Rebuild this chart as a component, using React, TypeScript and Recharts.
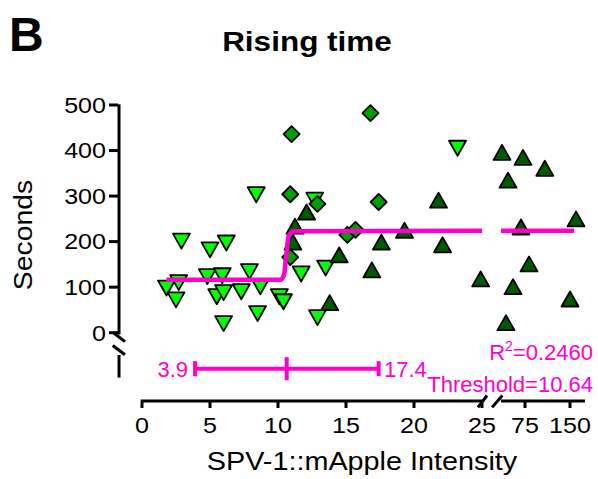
import { ErrorBar, ReferenceLine, Scatter, ScatterChart, XAxis, YAxis } from "recharts";

const FONT = '"Liberation Sans", Arial, sans-serif';
const MAGENTA = "#FF00CC";
const LIGHT = "#00FF00";
const MID = "#00A000";
const DARK = "#005A00";
const TICK_STRETCH = 1.14;

// light green, inverted triangles
const downTriangles = [
  { x: 1.8, y: 98 },
  { x: 2.5, y: 72 },
  { x: 2.7, y: 110 },
  { x: 2.9, y: 201 },
  { x: 4.8, y: 123 },
  { x: 5.0, y: 182 },
  { x: 5.5, y: 79 },
  { x: 5.9, y: 125 },
  { x: 6.0, y: 88 },
  { x: 6.0, y: 20 },
  { x: 6.2, y: 197 },
  { x: 7.3, y: 90 },
  { x: 7.9, y: 134 },
  { x: 8.4, y: 303 },
  { x: 8.5, y: 42 },
  { x: 8.7, y: 101 },
  { x: 10.1, y: 79 },
  { x: 10.4, y: 68 },
  { x: 11.7, y: 129 },
  { x: 12.7, y: 291 },
  { x: 12.9, y: 33 },
  { x: 13.5, y: 142 },
  { x: 23.2, y: 405 },
];

// medium green diamonds
const diamonds = [
  { x: 10.9, y: 166 },
  { x: 10.9, y: 304 },
  { x: 11.0, y: 436 },
  { x: 12.9, y: 283 },
  { x: 15.1, y: 215 },
  { x: 15.7, y: 226 },
  { x: 16.8, y: 482 },
  { x: 17.4, y: 287 },
];

// dark green triangles, left part of the broken axis
const upTrianglesLow = [
  { x: 11.1, y: 199 },
  { x: 11.25, y: 234 },
  { x: 12.1, y: 265 },
  { x: 13.8, y: 66 },
  { x: 14.5, y: 171 },
  { x: 16.9, y: 138 },
  { x: 17.6, y: 199 },
  { x: 19.3, y: 225 },
  { x: 21.8, y: 291 },
  { x: 22.1, y: 193 },
  { x: 24.9, y: 118 },
];

// dark green triangles, right part of the broken axis
const upTrianglesHigh = [
  { x: 36.7, y: 396 },
  { x: 43.3, y: 22 },
  { x: 46.7, y: 335 },
  { x: 55, y: 101 },
  { x: 68.3, y: 232 },
  { x: 71.7, y: 385 },
  { x: 81.7, y: 151 },
  { x: 108, y: 361 },
  { x: 150, y: 74 },
  { x: 160, y: 250 },
];

// segmental fit
const fitLow = [
  { x: 1.8, y: 116 },
  { x: 10.2, y: 116 },
  { x: 10.45, y: 128 },
  { x: 10.6, y: 170 },
  { x: 10.8, y: 214 },
  { x: 11.2, y: 223 },
  { x: 25, y: 224 },
];
const fitHigh = [
  { x: 35, y: 224 },
  { x: 157, y: 224 },
];

const THRESHOLD = 10.64;
const CI_LOW = 3.9;
const CI_HIGH = 17.4;
const R2 = "0.2460";
const thresholdBar = [
  { x: THRESHOLD, y: -79, err: [THRESHOLD - CI_LOW, CI_HIGH - THRESHOLD] },
];

const xTicksLow = [0, 5, 10, 15, 20, 25];
const xTicksHigh = [75, 150];
const yTicks = [0, 100, 200, 300, 400, 500];

// axis drawing helpers (in data units)
const Y_AXIS_AT = -1.69;
const X_AXIS_AT = -150;

const DownTriangle = (p: any) => {
  const { cx, cy } = p;
  return (
    <path
      d={`M${cx - 8.5},${cy - 7.5}L${cx + 8.5},${cy - 7.5}L${cx},${cy + 7.5}Z`}
      fill={LIGHT}
      stroke="#000"
      strokeWidth={1.8}
      strokeLinejoin="round"
    />
  );
};

const UpTriangle = (p: any) => {
  const { cx, cy } = p;
  return (
    <path
      d={`M${cx - 8.5},${cy + 7.5}L${cx + 8.5},${cy + 7.5}L${cx},${cy - 7.5}Z`}
      fill={DARK}
      stroke="#000"
      strokeWidth={1.8}
      strokeLinejoin="round"
    />
  );
};

const Diamond = (p: any) => {
  const { cx, cy } = p;
  return (
    <path
      d={`M${cx},${cy - 8}L${cx + 8},${cy}L${cx},${cy + 8}L${cx - 8},${cy}Z`}
      fill={MID}
      stroke="#000"
      strokeWidth={1.8}
      strokeLinejoin="round"
    />
  );
};

const CenterTick = (p: any) => {
  const { cx, cy } = p;
  return <rect x={cx - 2} y={cy - 11.5} width={4} height={23} fill={MAGENTA} />;
};

const NoDot = () => <g />;

const XTick = (p: any) => (
  <text
    transform={`translate(${p.x},${p.y}) scale(${TICK_STRETCH},1)`}
    textAnchor="middle"
    dy="0.71em"
    fontSize={22}
    fontFamily={FONT}
    fill="#000"
  >
    {p.payload.value}
  </text>
);

const YTick = (p: any) => (
  <text
    transform={`translate(${p.x},${p.y}) scale(${TICK_STRETCH},1)`}
    textAnchor="end"
    dy="0.355em"
    fontSize={22}
    fontFamily={FONT}
    fill="#000"
  >
    {p.payload.value}
  </text>
);

const axisLine = { stroke: "#000", strokeWidth: 3, ifOverflow: "visible" as const };

export default function App() {
  return (
    <div style={{ position: "absolute", left: 0, top: 0, width: 598, height: 479, background: "#fff" }}>
      <ScatterChart
        width={598}
        height={479}
        margin={{ top: 105, right: 13, bottom: 47, left: 58 }}
      >
        <XAxis
          xAxisId="lo"
          type="number"
          dataKey="x"
          domain={[0, 25]}
          ticks={xTicksLow}
          interval={0}
          height={30}
          padding={{ left: 24, right: 103 }}
          axisLine={false}
          tickLine={{ stroke: "#000", strokeWidth: 3 }}
          tickSize={6}
          tickMargin={9}
          tick={XTick}
        />
        <XAxis
          xAxisId="hi"
          type="number"
          dataKey="x"
          domain={[35, 175]}
          ticks={xTicksHigh}
          interval={0}
          height={1}
          padding={{ left: 383, right: 0 }}
          axisLine={false}
          tickLine={{ stroke: "#000", strokeWidth: 3 }}
          tickSize={7}
          tickMargin={9}
          tick={XTick}
        />
        <YAxis
          type="number"
          dataKey="y"
          domain={[-150, 500]}
          ticks={yTicks}
          interval={0}
          width={60}
          axisLine={false}
          tickLine={{ stroke: "#000", strokeWidth: 3 }}
          tickSize={9}
          tickMargin={3}
          tick={YTick}
        />

        {/* y axis with break */}
        <ReferenceLine xAxisId="lo" {...axisLine} segment={[{ x: Y_AXIS_AT, y: 501.5 }, { x: Y_AXIS_AT, y: -4 }]} />
        <ReferenceLine xAxisId="lo" {...axisLine} segment={[{ x: -2.15, y: 1 }, { x: -1.25, y: -19.7 }]} />
        <ReferenceLine xAxisId="lo" {...axisLine} segment={[{ x: -2.15, y: -28 }, { x: -1.25, y: -48.5 }]} />
        <ReferenceLine xAxisId="lo" {...axisLine} segment={[{ x: Y_AXIS_AT, y: -49 }, { x: Y_AXIS_AT, y: -98.6 }]} />

        {/* x axis with break */}
        <ReferenceLine xAxisId="lo" {...axisLine} segment={[{ x: -0.1, y: X_AXIS_AT }, { x: 25.05, y: X_AXIS_AT }]} />
        <ReferenceLine xAxisId="lo" {...axisLine} segment={[{ x: 24.7, y: -164 }, { x: 25.37, y: -138 }]} />
        <ReferenceLine xAxisId="lo" {...axisLine} segment={[{ x: 25.74, y: -164 }, { x: 26.5, y: -138 }]} />
        <ReferenceLine xAxisId="hi" {...axisLine} segment={[{ x: 35, y: X_AXIS_AT }, { x: 175, y: X_AXIS_AT }]} />

        <Scatter xAxisId="lo" data={downTriangles} shape={DownTriangle} isAnimationActive={false} />
        <Scatter xAxisId="lo" data={diamonds} shape={Diamond} isAnimationActive={false} />
        <Scatter xAxisId="lo" data={upTrianglesLow} shape={UpTriangle} isAnimationActive={false} />
        <Scatter xAxisId="hi" data={upTrianglesHigh} shape={UpTriangle} isAnimationActive={false} />

        <Scatter
          xAxisId="lo"
          data={fitLow}
          shape={NoDot}
          line={{ stroke: MAGENTA, strokeWidth: 4.5 }}
          lineJointType="monotoneX"
          isAnimationActive={false}
        />
        <Scatter
          xAxisId="hi"
          data={fitHigh}
          shape={NoDot}
          line={{ stroke: MAGENTA, strokeWidth: 4.5 }}
          isAnimationActive={false}
        />

        <Scatter xAxisId="lo" data={thresholdBar} shape={CenterTick} isAnimationActive={false}>
          <ErrorBar dataKey="err" direction="x" width={7.5} stroke={MAGENTA} strokeWidth={4} />
        </Scatter>
      </ScatterChart>

      <svg
        width={598}
        height={479}
        style={{ position: "absolute", left: 0, top: 0, pointerEvents: "none" }}
        fontFamily={FONT}
      >
        <text x={9} y={51} fontSize={48} fontWeight="bold" fill="#000">
          B
        </text>
        <text
          transform="translate(307,51) scale(1.125,1)"
          textAnchor="middle"
          fontSize={28}
          fontWeight="bold"
          fill="#000"
        >
          Rising time
        </text>
        <text
          transform="translate(32,235) rotate(-90) scale(1.09,1)"
          textAnchor="middle"
          fontSize={26}
          fill="#000"
        >
          Seconds
        </text>
        <text
          transform="translate(362,470) scale(1.13,1)"
          textAnchor="middle"
          fontSize={25.5}
          fill="#000"
        >
          SPV-1::mApple Intensity
        </text>
        <text x={188} y={377} textAnchor="end" fontSize={22} fill={MAGENTA}>
          {CI_LOW}
        </text>
        <text x={384} y={377} fontSize={22} fill={MAGENTA}>
          {CI_HIGH}
        </text>
        <text x={593} y={360} textAnchor="end" fontSize={22} fill={MAGENTA}>
          R<tspan fontSize={14} dy={-9}>2</tspan>
          <tspan dy={9}>={R2}</tspan>
        </text>
        <text x={593} y={392} textAnchor="end" fontSize={22} fill={MAGENTA}>
          Threshold={THRESHOLD}
        </text>
      </svg>
    </div>
  );
}
